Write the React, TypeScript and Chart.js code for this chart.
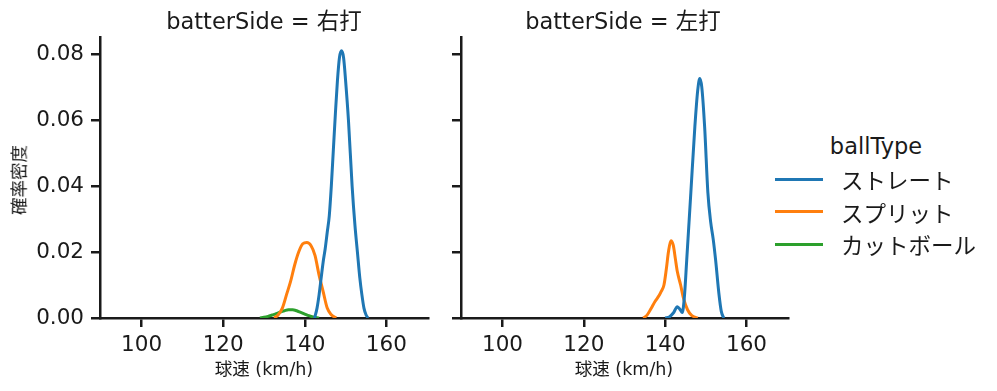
import React, { useEffect, useRef } from "react";
import { Chart, registerables } from "chart.js";
Chart.register(...registerables);

const FONT = '"DejaVu Sans", "Noto Sans CJK JP", sans-serif';
const CJK = '"Noto Sans CJK JP", sans-serif';

const panelTitles = ["batterSide = 右打", "batterSide = 左打"];
const xLabel = "球速 (km/h)";
const yLabel = "確率密度";
const legendTitle = "ballType";
const ballTypes = ["ストレート", "スプリット", "カットボール"];
const colors = ["#1f77b4", "#ff7f0e", "#2ca02c"];

const xTicks = [100, 120, 140, 160];
const yTicks = [0, 0.02, 0.04, 0.06, 0.08];
const xMin = 89.8;
const xMax = 170.2;
const yMin = 0;
const yMax = 0.0852;

// 右打
const rStraightX = [142.4, 143, 143.5, 144, 144.5, 145, 145.5, 146, 146.5, 147, 147.5, 148, 148.5, 149, 149.5, 150, 150.7, 151.6, 152.3, 152.9, 153.5, 154, 154.5, 155, 155.5];
const rStraightY = [0, 0.003, 0.007, 0.012, 0.017, 0.021, 0.026, 0.031, 0.04, 0.051, 0.062, 0.072, 0.079, 0.081, 0.079, 0.072, 0.06, 0.04, 0.028, 0.02, 0.012, 0.007, 0.003, 0.001, 0];
const rSplitX = [132.5, 133.5, 134.5, 135.5, 136.5, 137.5, 138.5, 139.5, 140.5, 141.5, 142.5, 143.5, 144.5, 145.5, 146.5, 147.7];
const rSplitY = [0, 0.001, 0.003, 0.007, 0.011, 0.016, 0.02, 0.0225, 0.0229, 0.022, 0.019, 0.013, 0.008, 0.003, 0.001, 0];
const rCutX = [129, 130, 131, 132, 133, 134, 135, 136, 136.5, 137, 138, 139, 140, 141, 142, 143.5];
const rCutY = [0, 0.0002, 0.0005, 0.0009, 0.0013, 0.0018, 0.0022, 0.0025, 0.0025, 0.0025, 0.0022, 0.0017, 0.0012, 0.0007, 0.0003, 0];

// 左打
const lStraightX = [140, 141, 142, 143, 143.7, 144.2, 144.7, 145.3, 146.3, 147.3, 148, 148.5, 149, 149.7, 150.5, 151.2, 151.8, 152.4, 153.2, 153.8, 154.4];
const lStraightY = [0, 0.0003, 0.0015, 0.0034, 0.0025, 0.0017, 0.006, 0.0176, 0.0378, 0.058, 0.069, 0.0726, 0.07, 0.058, 0.038, 0.029, 0.024, 0.0176, 0.0075, 0.002, 0];
const lSplitX = [134.6, 135.5, 136.5, 137.5, 138.5, 139, 139.7, 140.3, 140.8, 141.4, 142, 142.5, 143, 143.8, 144.5, 145.5, 146.5, 148];
const lSplitY = [0, 0.0008, 0.0028, 0.005, 0.0068, 0.008, 0.01, 0.015, 0.02, 0.0234, 0.022, 0.018, 0.014, 0.01, 0.006, 0.0025, 0.0008, 0];
const lCutX: number[] = [];
const lCutY: number[] = [];

const panelSeries = [
  [[rStraightX, rStraightY], [rSplitX, rSplitY], [rCutX, rCutY]],
  [[lStraightX, lStraightY], [lSplitX, lSplitY], [lCutX, lCutY]],
];

const AXIS = "#1a1a1a";

type PanelProps = {
  idx: number;
  left: number;
  width: number;
  height: number;
  yWidth: number;
  padTop: number;
  padRight: number;
  xHeight: number;
  showYLabels: boolean;
};

function Panel(p: PanelProps) {
  const ref = useRef<HTMLCanvasElement | null>(null);
  useEffect(() => {
    if (!ref.current) return;
    const datasets = panelSeries[p.idx].map((s, i) => ({
      label: ballTypes[i],
      data: s[0].map((x, j) => ({ x, y: s[1][j] })),
      borderColor: colors[i],
      backgroundColor: colors[i],
      borderWidth: 3,
      pointRadius: 0,
      fill: false,
      cubicInterpolationMode: "monotone" as const,
    }));
    const chart = new Chart(ref.current, {
      type: "line",
      data: { datasets },
      options: {
        animation: false,
        responsive: false,
        devicePixelRatio: 1,
        layout: { padding: { left: 0, top: p.padTop, right: p.padRight, bottom: 0 } },
        plugins: { legend: { display: false }, tooltip: { enabled: false }, title: { display: false } },
        scales: {
          x: {
            type: "linear",
            min: xMin,
            max: xMax,
            afterBuildTicks: (s: any) => {
              s.ticks = xTicks.map((v) => ({ value: v }));
            },
            afterFit: (s: any) => {
              s.height = p.xHeight;
            },
            ticks: {
              font: { family: FONT, size: 21.5 },
              color: "#1a1a1a",
              padding: 6,
              maxRotation: 0,
              callback: (v: any) => String(v),
            },
            grid: { drawOnChartArea: false, drawTicks: true, tickLength: 9, color: AXIS, lineWidth: 2.5 },
            border: { display: true, color: AXIS, width: 2.5 },
          },
          y: {
            type: "linear",
            min: yMin,
            max: yMax,
            afterBuildTicks: (s: any) => {
              s.ticks = yTicks.map((v) => ({ value: v }));
            },
            afterFit: (s: any) => {
              s.width = p.yWidth;
            },
            ticks: {
              display: p.showYLabels,
              font: { family: FONT, size: 21.5 },
              color: "#1a1a1a",
              padding: 7,
              callback: (v: any) => Number(v).toFixed(2),
            },
            grid: { drawOnChartArea: false, drawTicks: true, tickLength: 9, color: AXIS, lineWidth: 2.5 },
            border: { display: true, color: AXIS, width: 2.5 },
          },
        },
      },
    });
    return () => chart.destroy();
  }, []);
  return (
    <canvas
      ref={ref}
      width={p.width}
      height={p.height}
      style={{ position: "absolute", left: p.left, top: 0, width: p.width, height: p.height }}
    />
  );
}

const txt = (x: number, y: number, size: number, s: string, family: string = FONT, extra: any = {}) => (
  <div
    style={{
      position: "absolute",
      left: x,
      top: y,
      transform: "translate(-50%, -50%)",
      fontFamily: family,
      fontSize: size,
      color: "#1a1a1a",
      whiteSpace: "nowrap",
      lineHeight: 1,
      ...extra,
    }}
  >
    {s}
  </div>
);

export default function App() {
  return (
    <div style={{ position: "absolute", left: 0, top: 0, width: 997, height: 391, background: "#fff", overflow: "hidden" }}>
      <Panel idx={0} left={0} width={440} height={391} yWidth={100} padTop={37} padRight={12} xHeight={73} showYLabels={true} />
      <Panel idx={1} left={430} width={370} height={391} yWidth={31} padTop={37} padRight={12} xHeight={73} showYLabels={false} />
      {txt(264, 21, 22.5, panelTitles[0])}
      {txt(623, 21, 22.5, panelTitles[1])}
      {txt(264, 370, 17.5, xLabel)}
      {txt(624, 370, 17.5, xLabel)}
      {txt(18, 180, 17.5, yLabel, CJK, { transform: "translate(-50%, -50%) rotate(-90deg)" })}
      {txt(876, 146, 22.5, legendTitle)}
      {ballTypes.map((b, i) => (
        <React.Fragment key={b}>
          <div
            style={{
              position: "absolute",
              left: 775,
              top: 179 + i * 32.5 - 1.5,
              width: 48,
              height: 3,
              background: colors[i],
            }}
          />
          <div
            style={{
              position: "absolute",
              left: 841,
              top: 179 + i * 32.5,
              transform: "translateY(-50%)",
              fontFamily: CJK,
              fontSize: 22.5,
              color: "#1a1a1a",
              whiteSpace: "nowrap",
              lineHeight: 1,
            }}
          >
            {b}
          </div>
        </React.Fragment>
      ))}
    </div>
  );
}
